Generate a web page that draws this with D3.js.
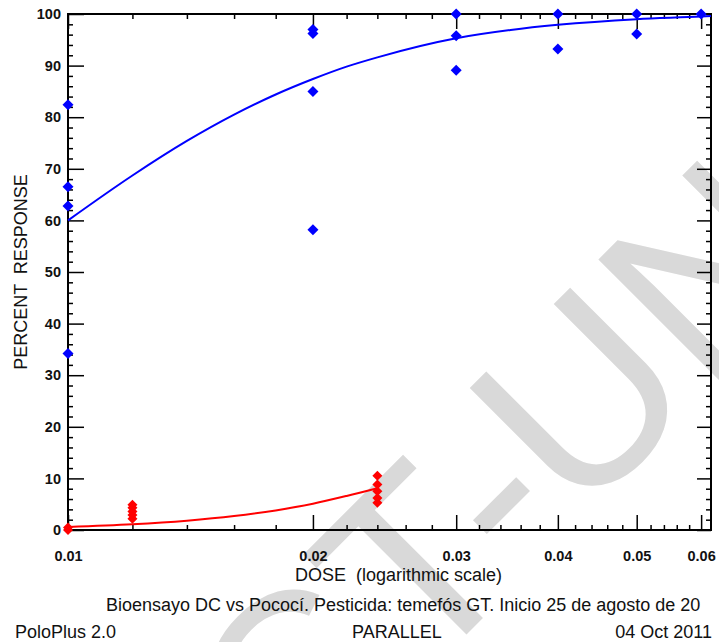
<html lang="es">
<head>
<meta charset="utf-8">
<title>PoloPlus PARALLEL</title>
<style>
  body { margin: 0; background: white; }
  svg { display: block; background: white; font-family: Arial, "Liberation Sans", sans-serif; }
  .tick line { stroke: black; stroke-width: 1.5; }
  .domain { display: none; }
  .ticklab text { font-size: 14.5px; font-weight: bold; fill: #111; }
  .plain { font-size: 18px; fill: #111; }
</style>
</head>
<body>
<script src="https://cdnjs.cloudflare.com/ajax/libs/d3/7.8.5/d3.min.js"></script>
<script>
// observed points (dose, percent response)
var blueDose = [0.01, 0.01, 0.01, 0.01, 0.02, 0.02, 0.02, 0.02, 0.03, 0.03, 0.03, 0.04, 0.04, 0.05, 0.05, 0.06];
var bluePct  = [82.4, 66.5, 62.8, 34.2, 97.0, 96.2, 85.0, 58.2, 100, 95.8, 89.1, 100, 93.2, 100, 96.1, 100];

var redDose = [0.01, 0.01, 0.012, 0.012, 0.012, 0.012, 0.012, 0.024, 0.024, 0.024, 0.024, 0.024];
var redPct  = [0, 0.5, 2.2, 2.9, 3.6, 4.3, 4.9, 5.3, 6.2, 7.5, 8.8, 10.5];

// fitted curves
var blueFitDose = [0.01, 0.012, 0.014, 0.016, 0.018, 0.02, 0.022, 0.024, 0.03, 0.035, 0.04, 0.05, 0.06, 0.0617];
var blueFitPct  = [60.0, 68.7, 75.4, 80.5, 84.4, 87.4, 89.8, 91.6, 95.3, 96.9, 97.9, 99.0, 99.5, 99.6];
var redFitDose = [0.01, 0.012, 0.014, 0.016, 0.018, 0.02, 0.022, 0.024];
var redFitPct  = [0.6, 1.1, 1.8, 2.7, 3.8, 5.1, 6.6, 8.1];

// axis ticks
var xMajor = [0.01, 0.02, 0.03, 0.04, 0.05, 0.06];
var xMinor = [0.012, 0.014, 0.016, 0.018, 0.022, 0.024, 0.026, 0.028, 0.032, 0.034, 0.036, 0.038,
              0.042, 0.044, 0.046, 0.048, 0.052, 0.054, 0.056, 0.058];
var yMajor = [0, 10, 20, 30, 40, 50, 60, 70, 80, 90, 100];
var yMinor = [2, 4, 6, 8, 12, 14, 16, 18, 22, 24, 26, 28, 32, 34, 36, 38, 42, 44, 46, 48,
              52, 54, 56, 58, 62, 64, 66, 68, 72, 74, 76, 78, 82, 84, 86, 88, 92, 94, 96, 98];

var fullwidth = 719, fullheight = 642;
var margin = { top: 14, left: 68 };
var width = 643, height = 516;

var svg = d3.select("body").append("svg")
    .attr("width", fullwidth)
    .attr("height", fullheight);

// watermark behind everything (cut by the page edges, as in the original)
svg.append("text")
    .attr("transform", "translate(293,808) rotate(-45)")
    .style("font-size", "250px")
    .style("fill", "#d9d9d9")
    .text("CT-UN");

var g = svg.append("g")
    .attr("transform", "translate(" + margin.left + "," + margin.top + ")");

var xScale = d3.scaleLog().domain([0.01, 0.0617]).range([0, width]);
var yScale = d3.scaleLinear().domain([0, 100]).range([height, 0]);

// ticks point inward on all four sides
g.append("g").attr("class", "ticklab")
    .attr("transform", "translate(0," + height + ")")
    .call(d3.axisBottom(xScale).tickValues(xMajor).tickSize(-15).tickPadding(20.5)
        .tickFormat(function(d) { return d3.format(".2f")(d); }));
g.append("g")
    .attr("transform", "translate(0," + height + ")")
    .call(d3.axisBottom(xScale).tickValues(xMinor).tickSize(-5).tickFormat(""));
g.append("g")
    .call(d3.axisTop(xScale).tickValues(xMajor).tickSize(-15).tickFormat(""));
g.append("g")
    .call(d3.axisTop(xScale).tickValues(xMinor).tickSize(-5).tickFormat(""));

g.append("g").attr("class", "ticklab")
    .call(d3.axisLeft(yScale).tickValues(yMajor).tickSize(-16).tickPadding(7));
g.append("g")
    .call(d3.axisLeft(yScale).tickValues(yMinor).tickSize(-5).tickFormat(""));
g.append("g")
    .attr("transform", "translate(" + width + ",0)")
    .call(d3.axisRight(yScale).tickValues(yMajor).tickSize(-14).tickFormat(""));
g.append("g")
    .attr("transform", "translate(" + width + ",0)")
    .call(d3.axisRight(yScale).tickValues(yMinor).tickSize(-5).tickFormat(""));

g.selectAll(".ticklab text").attr("font-family", null).attr("font-size", null);

g.append("rect")
    .attr("width", width)
    .attr("height", height)
    .attr("fill", "none")
    .attr("stroke", "black")
    .attr("stroke-width", 2);

// fitted lines
var line = d3.line()
    .x(function(d) { return xScale(d[0]); })
    .y(function(d) { return yScale(d[1]); })
    .curve(d3.curveMonotoneX);

g.append("path")
    .datum(d3.zip(blueFitDose, blueFitPct))
    .attr("d", line)
    .attr("fill", "none")
    .attr("stroke", "#0000ff")
    .attr("stroke-width", 2);

g.append("path")
    .datum(d3.zip(redFitDose, redFitPct))
    .attr("d", line)
    .attr("fill", "none")
    .attr("stroke", "#ff0000")
    .attr("stroke-width", 2);

// diamond markers
function diamond(r) {
    return "M0," + (-r) + "L" + r + ",0L0," + r + "L" + (-r) + ",0Z";
}

g.selectAll(".blue")
    .data(d3.zip(blueDose, bluePct))
    .enter().append("path")
    .attr("class", "blue")
    .attr("d", diamond(5.5))
    .attr("transform", function(d) { return "translate(" + xScale(d[0]) + "," + yScale(d[1]) + ")"; })
    .attr("fill", "#0000ff");

g.selectAll(".red")
    .data(d3.zip(redDose, redPct))
    .enter().append("path")
    .attr("class", "red")
    .attr("d", diamond(5))
    .attr("transform", function(d) { return "translate(" + xScale(d[0]) + "," + yScale(d[1]) + ")"; })
    .attr("fill", "#ff0000");

// labels
svg.append("text")
    .attr("class", "plain")
    .attr("transform", "translate(27," + (margin.top + height / 2) + ") rotate(-90)")
    .style("text-anchor", "middle")
    .attr("xml:space", "preserve")
    .text("PERCENT  RESPONSE");

svg.append("text")
    .attr("class", "plain")
    .attr("x", 295).attr("y", 581)
    .attr("xml:space", "preserve")
    .text("DOSE  (logarithmic scale)");

svg.append("text")
    .attr("class", "plain")
    .attr("x", 106).attr("y", 611)
    .text("Bioensayo DC vs Pococí. Pesticida: temefós GT. Inicio 25 de agosto de 20");

svg.append("text")
    .attr("class", "plain")
    .attr("x", 15).attr("y", 637.5)
    .text("PoloPlus 2.0");

svg.append("text")
    .attr("class", "plain")
    .attr("x", 352).attr("y", 637.5)
    .text("PARALLEL");

svg.append("text")
    .attr("class", "plain")
    .attr("x", 712).attr("y", 637.5)
    .style("text-anchor", "end")
    .text("04 Oct 2011");
</script>
</body>
</html>
